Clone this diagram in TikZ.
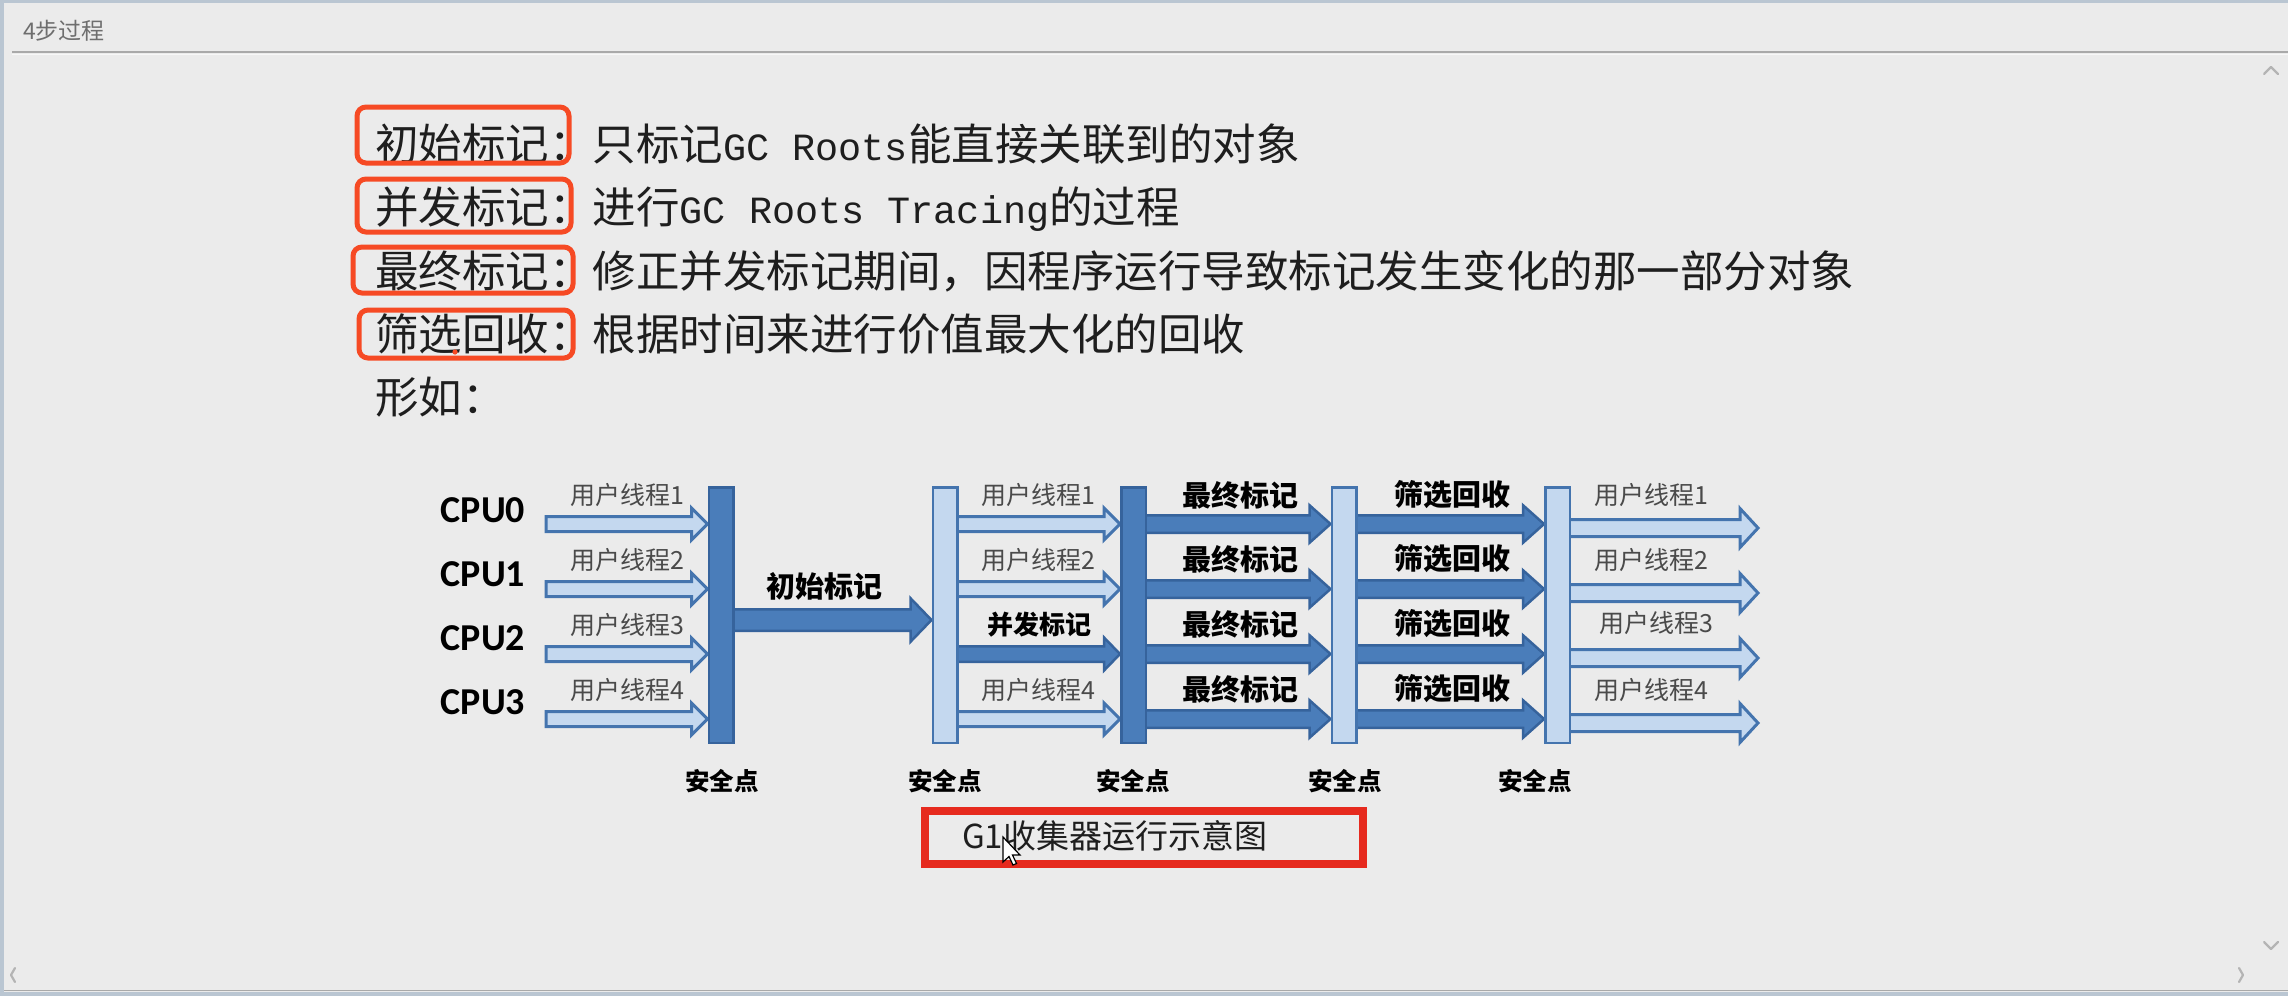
\documentclass[tikz,border=0pt]{standalone}
\usepackage{fontspec}
\usetikzlibrary{calc}
\newfontfamily\cjk{Noto Sans CJK SC}
\newfontfamily\latm{Liberation Mono}
\newfontfamily\cpuf{Carlito}
\newcommand\setfs[1]{\fontsize{#1}{#1}\selectfont}
\definecolor{bgc}{HTML}{EBEBEB}
\definecolor{framec}{HTML}{BAC6D2}
\definecolor{sepc}{HTML}{A9A9A9}
\definecolor{chevc}{HTML}{B4B4B4}
\definecolor{titlec}{HTML}{6E6E6E}
\definecolor{maintext}{HTML}{1E1E1E}
\definecolor{redbox}{HTML}{F64A24}
\definecolor{capred}{HTML}{E62A1E}
\definecolor{darkfill}{HTML}{4A7DBA}
\definecolor{darkline}{HTML}{36639C}
\definecolor{lightfill}{HTML}{C4D8EF}
\definecolor{lightline}{HTML}{4474AE}
\definecolor{labgray}{HTML}{4A4A4A}
\pgfdeclarelayer{bglayer}
\pgfdeclarelayer{arrowlayer}
\pgfsetlayers{bglayer,arrowlayer,main}
\newcommand{\blockarrow}[7]{%
 \draw[#1] ($(#2 |- #4)+(-3,-#5)$) -- ($(#3 |- #4)+(-#7,-#5)$) -- ($(#3 |- #4)+(-#7,-#6)$) -- (#3 |- #4) -- ($(#3 |- #4)+(-#7,#6)$) -- ($(#3 |- #4)+(-#7,#5)$) -- ($(#2 |- #4)+(-3,#5)$) -- cycle;}
\begin{document}
\begin{tikzpicture}[x=1pt,y=-1pt,
 thinarr/.style={draw=lightline, fill=lightfill, line width=3, line join=miter},
 darkarr/.style={draw=darkline, fill=darkfill, line width=2.5, line join=miter},
 darkbar/.style={rectangle, draw=darkline, fill=darkfill, line width=2.5, minimum width=24.5, minimum height=255.5, inner sep=0},
 lightbar/.style={rectangle, draw=lightline, fill=lightfill, line width=2.5, minimum width=24.5, minimum height=255.5, inner sep=0},
 txt/.style={anchor=base west, inner sep=0, font=\cjk\setfs{43.5}, text=maintext},
 cpu/.style={inner sep=0, font=\cpuf\bfseries\setfs{38}, text=black},
 ulab/.style={inner sep=0, font=\cjk\setfs{25}, text=labgray},
 blab/.style={inner sep=0, font=\cjk\bfseries\setfs{29}, text=black},
 safe/.style={inner sep=0, font=\cjk\bfseries\setfs{24.5}, text=black},
 rbox/.style={draw=redbox, line width=5, rounded corners=9},
 chev/.style={draw=chevc, line width=2.2, line cap=round, line join=round}]
\useasboundingbox (0,0) rectangle (2288,996);
\begin{pgfonlayer}{bglayer}
\fill[bgc] (0,0) rectangle (2288,996);
\fill[framec] (0,0) rectangle (2288,3);
\fill[framec] (0,0) rectangle (4,996);
\fill[framec] (0,992) rectangle (2288,996);
\draw[sepc, line width=1.5] (4,990.5) -- (2288,990.5);
\draw[sepc, line width=2] (12,52) -- (2288,52);
\draw[white!60!bgc, line width=1] (12,54) -- (2288,54);
\end{pgfonlayer}
% scroll chevrons
\draw[chev] (2264,74) -- (2271,67) -- (2278,74);
\draw[chev] (2264,942) -- (2271,949) -- (2278,942);
\draw[chev] (15,968) -- (11,975) -- (15,982);
\draw[chev] (2239,968) -- (2243,975) -- (2239,982);
% title
\node[anchor=west, inner sep=0, font=\cjk\setfs{23}, text=titlec] (title) at (23,31) {4步过程};
% main text
\node[txt] (l1) at (375,160) {初始标记：只标记{\latm\setfs{38.5}GC Roots}能直接关联到的对象};
\node[txt] (l2) at (375,223) {并发标记：进行{\latm\setfs{38.5}GC Roots Tracing}的过程};
\node[txt] (l3) at (375,287) {最终标记：修正并发标记期间，因程序运行导致标记发生变化的那一部分对象};
\node[txt] (l4) at (375,350) {筛选回收：根据时间来进行价值最大化的回收};
\node[txt] (l5) at (375,413) {形如：};
\draw[rbox] (357,107) rectangle (569,163);
\draw[rbox] (357,179) rectangle (571,232);
\draw[rbox] (353,247) rectangle (573,293);
\draw[rbox] (359,310) rectangle (573,358);
\fill[redbox] (455,352) circle (2.6);
% bars
\node[darkbar] (b1) at (721,615) {};
\node[lightbar] (b2) at (945,615) {};
\node[darkbar] (b3) at (1133.5,615) {};
\node[lightbar] (b4) at (1344,615) {};
\node[lightbar] (b5) at (1557.5,615) {};
% rows and free ends
\coordinate (r1) at (0,524);
\coordinate (r2) at (0,589);
\coordinate (r3) at (0,654);
\coordinate (r4) at (0,719);
\coordinate (q1) at (0,528);
\coordinate (q2) at (0,593);
\coordinate (q3) at (0,658);
\coordinate (q4) at (0,723);
\coordinate (rm) at (0,620);
\coordinate (s0) at (549,0);
\coordinate (e5) at (1758,0);
\begin{pgfonlayer}{arrowlayer}
\foreach \r in {r1,r2,r3,r4}{\blockarrow{thinarr}{s0}{b1.west}{\r}{7.5}{16}{16}}
\blockarrow{darkarr}{b1.east}{b2.west}{rm}{10.75}{21.75}{21}
\foreach \r in {r1,r2,r4}{\blockarrow{thinarr}{b2.east}{b3.west}{\r}{7.5}{16}{16}}
\blockarrow{darkarr}{b2.east}{b3.west}{r3}{7.75}{16.5}{16}
\foreach \r in {r1,r2,r3,r4}{\blockarrow{darkarr}{b3.east}{b4.west}{\r}{8.75}{18.75}{21}}
\foreach \r in {r1,r2,r3,r4}{\blockarrow{darkarr}{b4.east}{b5.west}{\r}{8.75}{18.75}{21}}
\foreach \r in {q1,q2,q3,q4}{\blockarrow{thinarr}{b5.east}{e5}{\r}{8.5}{19.5}{18}}
\end{pgfonlayer}
% CPU labels
\node[cpu] (c0) at (483,510) {CPU0};
\node[cpu] (c1) at (483,574) {CPU1};
\node[cpu] (c2) at (483,638) {CPU2};
\node[cpu] (c3) at (483,702) {CPU3};
% group labels
\node[ulab] (u11) at (627,495) {用户线程1};
\node[ulab] (u12) at (627,560) {用户线程2};
\node[ulab] (u13) at (627,625) {用户线程3};
\node[ulab] (u14) at (627,690) {用户线程4};
\node[blab] (init) at (824,586) {初始标记};
\node[ulab] (u21) at (1038,495) {用户线程1};
\node[ulab] (u22) at (1038,560) {用户线程2};
\node[blab, font=\cjk\bfseries\setfs{26}] (conc) at (1039,625) {并发标记};
\node[ulab] (u24) at (1038,690) {用户线程4};
\node[blab] (f1) at (1240,495) {最终标记};
\node[blab] (f2) at (1240,559) {最终标记};
\node[blab] (f3) at (1240,624) {最终标记};
\node[blab] (f4) at (1240,689) {最终标记};
\node[blab] (g1) at (1452,495) {筛选回收};
\node[blab] (g2) at (1452,559) {筛选回收};
\node[blab] (g3) at (1452,624) {筛选回收};
\node[blab] (g4) at (1452,689) {筛选回收};
\node[ulab] (u51) at (1651,495) {用户线程1};
\node[ulab] (u52) at (1651,560) {用户线程2};
\node[ulab] (u53) at (1656,623) {用户线程3};
\node[ulab] (u54) at (1651,690) {用户线程4};
% safe points
\node[safe] (p1) at (722,781) {安全点};
\node[safe] (p2) at (945,781) {安全点};
\node[safe] (p3) at (1133,781) {安全点};
\node[safe] (p4) at (1345,781) {安全点};
\node[safe] (p5) at (1535,781) {安全点};
% caption
\node[draw=capred, line width=8, minimum width=438, minimum height=53, inner sep=0] (capbox) at (1144,837.5) {};
\node[anchor=west, inner sep=0, font=\cjk\setfs{33}, text=maintext] (cap) at (962,836) {G1收集器运行示意图};
% mouse cursor
\draw[fill=white, draw=black, line width=1.2, line join=miter, shift={(1003,837)}] (0,0) -- (0,25) -- (6,19.5) -- (10,28) -- (13.5,26.5) -- (9.5,18) -- (17,18) -- cycle;
\end{tikzpicture}
\end{document}
